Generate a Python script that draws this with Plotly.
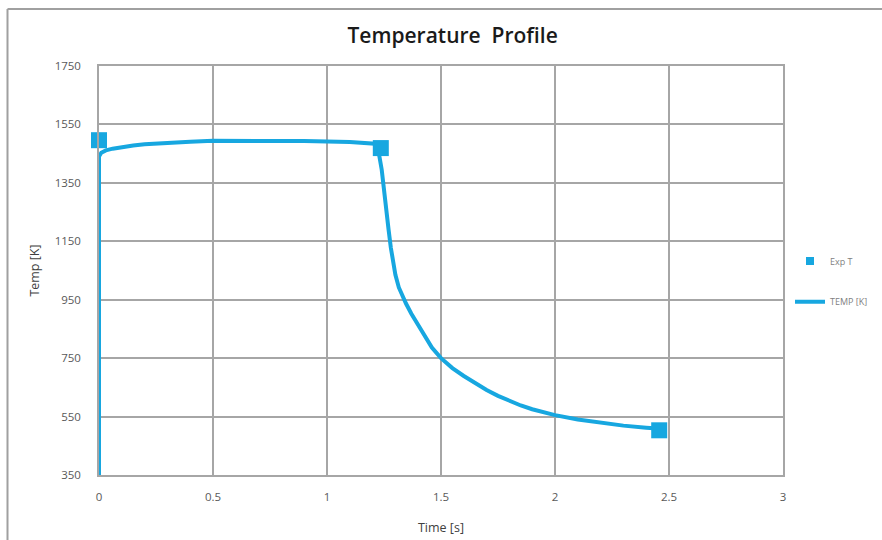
import plotly.graph_objects as go

# Simulated temperature curve
time_s = [0, 0, 0.01, 0.03, 0.06, 0.1, 0.15, 0.2, 0.3, 0.4, 0.5, 0.7, 0.9, 1.1, 1.2, 1.21,
          1.22, 1.23, 1.24, 1.25, 1.26, 1.27, 1.28, 1.29, 1.30, 1.315, 1.33, 1.347,
          1.37, 1.4, 1.43, 1.46, 1.5, 1.55, 1.6, 1.65, 1.7, 1.75, 1.8, 1.85, 1.9, 1.95,
          2.0, 2.1, 2.2, 2.3, 2.4, 2.45]
temp_k = [350, 1440, 1453, 1461, 1467, 1473, 1478, 1482, 1488, 1491, 1494, 1495, 1493, 1490, 1487, 1484,
          1470, 1440, 1395, 1335, 1262, 1190, 1128, 1075, 1035, 992, 962, 936,
          902, 862, 822, 786, 750, 716, 689, 664, 641, 621, 603, 588, 575, 564,
          555, 540, 528, 519, 512, 509]

# Experimental points
exp_time = [0, 1.236, 2.457]
exp_temp = [1496, 1469, 503]

x_ticks = [0, 0.5, 1, 1.5, 2, 2.5, 3]
x_tick_labels = ["0", "0.5", "1", "1.5", "2", "2.5", "3"]
y_ticks = [350, 550, 750, 950, 1150, 1350, 1550, 1750]

BLUE = "#17a7e0"
FONT = "Open Sans"

fig = go.Figure()

fig.add_trace(go.Scatter(
    x=time_s, y=temp_k, mode="lines", name="TEMP [K]",
    line=dict(color=BLUE, width=4),
    legend="legend2", cliponaxis=False,
))
fig.add_trace(go.Scatter(
    x=exp_time, y=exp_temp, mode="markers", name="Exp T",
    marker=dict(symbol="square", size=16, color=BLUE), showlegend=False,
    cliponaxis=False,
))
# legend-only entry with a smaller symbol
fig.add_trace(go.Scatter(
    x=[None], y=[None], mode="markers", name="Exp T",
    marker=dict(symbol="square", size=8, color=BLUE), legend="legend",
))

W, H = 882, 540
L, R, T, B = 99, 99, 66, 65
pw, ph = W - L - R, H - T - B

def px_x(p):
    return (p - L) / pw

def px_y(p):
    return (H - B - p) / ph

fig.update_layout(
    width=W, height=H,
    margin=dict(l=L, r=R, t=T, b=B, autoexpand=False),
    paper_bgcolor="white", plot_bgcolor="white",
    font=dict(family=FONT, color="#595959"),
    title=dict(text="Temperature  Profile", x=px_x(450), xanchor="center",
               y=1 - 36 / H, yanchor="middle",
               font=dict(family=FONT, size=21, color="#1a1a1a", weight=600)),
    xaxis=dict(range=[0, 3], tickvals=x_ticks, ticktext=x_tick_labels,
               showgrid=True, gridcolor="#a6a6a6", gridwidth=1.5,
               showline=True, linecolor="#a6a6a6", linewidth=1.5, mirror=True,
               zeroline=False, ticks="", tickfont=dict(size=11.5, color="#595959"),
               ticklabelstandoff=10, automargin=False,
               title=dict(text="Time [s]", font=dict(size=12.5, color="#404040"), standoff=21)),
    yaxis=dict(range=[350, 1750], tickvals=y_ticks,
               showgrid=True, gridcolor="#a6a6a6", gridwidth=1.5,
               showline=True, linecolor="#a6a6a6", linewidth=1.5, mirror=True,
               zeroline=False, ticks="", tickfont=dict(size=11.5, color="#595959"),
               ticklabelstandoff=14, automargin=False,
               title=dict(text="Temp [K]", font=dict(size=12.5, color="#404040"), standoff=12)),
    legend=dict(x=px_x(790), y=px_y(261), xanchor="left", yanchor="middle",
                font=dict(size=9, color="#7f7f7f"), bgcolor="rgba(0,0,0,0)",
                itemwidth=30),
    legend2=dict(x=px_x(790), y=px_y(301.7), xanchor="left", yanchor="middle",
                 font=dict(size=9, color="#7f7f7f"), bgcolor="rgba(0,0,0,0)",
                 itemwidth=30),
    shapes=[
        dict(type="line", xref="paper", yref="paper",
             x0=px_x(7.5), x1=px_x(7.5), y0=px_y(9), y1=px_y(540),
             line=dict(color="#a0a0a0", width=2)),
        dict(type="line", xref="paper", yref="paper",
             x0=px_x(7.5), x1=px_x(882), y0=px_y(9), y1=px_y(9),
             line=dict(color="#a0a0a0", width=2)),
    ],
)

fig.write_html("out.html", config={"displayModeBar": False},
               post_script="document.body.style.margin='0';document.body.style.overflow='hidden';")
